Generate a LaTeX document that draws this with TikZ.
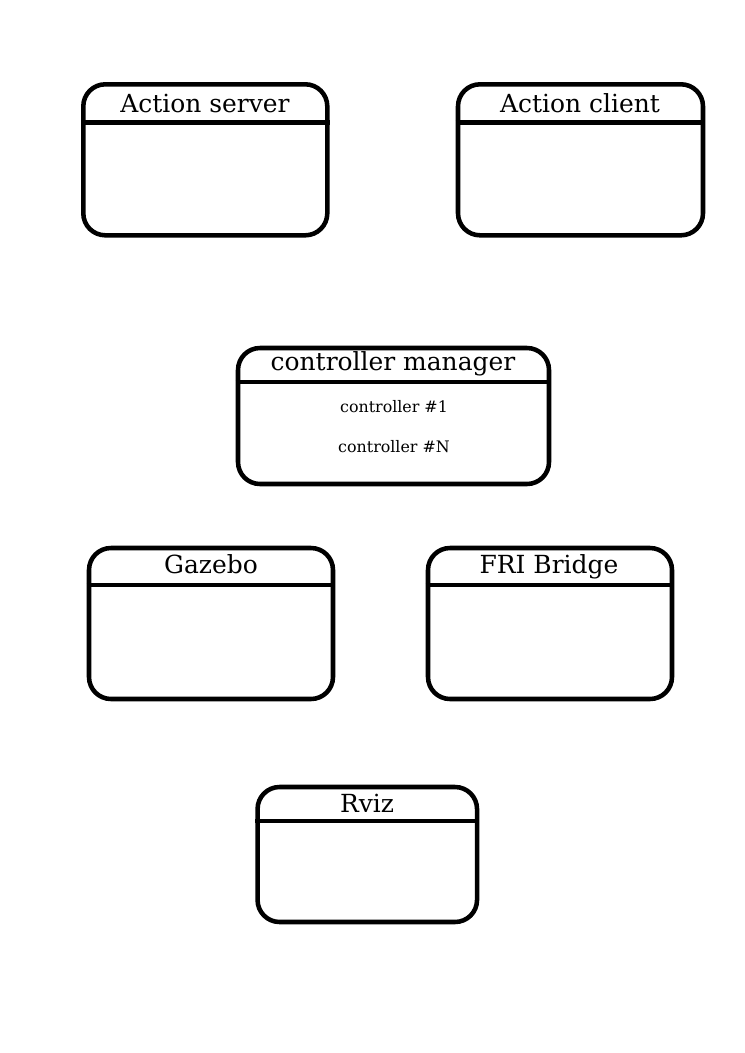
\documentclass[tikz,border=0pt]{standalone}
\usepackage{fontspec}
\setmainfont{DejaVu Serif}
\begin{document}
\begin{tikzpicture}[x=0.75pt,y=-0.75pt,
    panel/.style={draw,line width=3.4pt,rounded corners=16.5pt,inner sep=0pt},
    divider/.style={line width=3.4pt},
    title/.style={anchor=base,inner sep=0pt,font=\fontsize{18.7}{22}\selectfont},
    entry/.style={anchor=base,inner sep=0pt,font=\fontsize{11.9}{14}\selectfont}]
    \useasboundingbox (0,0) rectangle (745,1053);
    % boxes
    \node[panel,minimum width=183pt,minimum height=113.25pt] (srv) at (205.3,159.8) {};
    \node[panel,minimum width=183.75pt,minimum height=113.25pt] (cli) at (580.5,159.8) {};
    \node[panel,minimum width=233.25pt,minimum height=102pt] (mgr) at (393.5,416) {};
    \node[panel,minimum width=183pt,minimum height=113.25pt] (gzb) at (211,623.5) {};
    \node[panel,minimum width=183pt,minimum height=113.25pt] (fri) at (550,623.5) {};
    \node[panel,minimum width=164.6pt,minimum height=101.25pt] (rvz) at (367.3,854.5) {};
    % header lines
    \draw[divider] (srv.west |- 0,122.5) -- (srv.east |- 0,122.5);
    \draw[divider] (cli.west |- 0,122.5) -- (cli.east |- 0,122.5);
    \draw[divider] (mgr.west |- 0,382) -- (mgr.east |- 0,382);
    \draw[divider] (gzb.west |- 0,585) -- (gzb.east |- 0,585);
    \draw[divider] (fri.west |- 0,585) -- (fri.east |- 0,585);
    \draw[divider] (rvz.west |- 0,821) -- (rvz.east |- 0,821);
    % titles
    \node[title] (srv_t) at (205,112) {Action server};
    \node[title] (cli_t) at (580,112) {Action client};
    \node[title] (mgr_t) at (393,370) {controller manager};
    \node[title] (gzb_t) at (211,573) {Gazebo};
    \node[title] (fri_t) at (549,573) {FRI Bridge};
    \node[title] (rvz_t) at (367,812) {Rviz};
    % controllers
    \node[entry] (ctl_1) at (394,412) {controller \#1};
    \node[entry] (ctl_n) at (394,452) {controller \#N};
\end{tikzpicture}
\end{document}
